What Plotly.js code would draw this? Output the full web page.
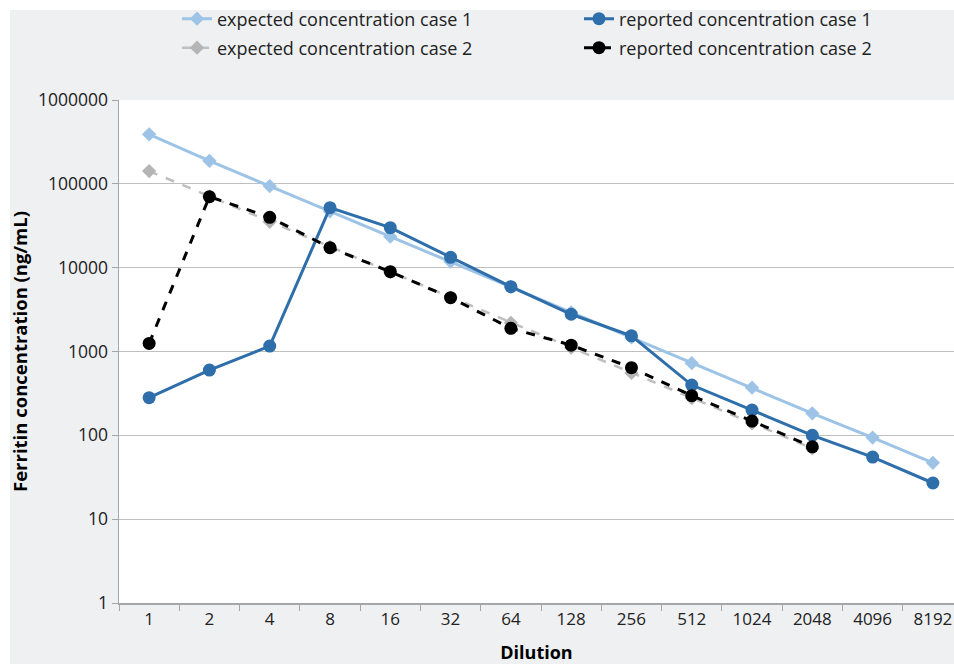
<!DOCTYPE html>
<html>
<head>
<meta charset="utf-8">
<script src="https://cdn.plot.ly/plotly-3.0.1.min.js"></script>
<style>
  html, body { margin: 0; padding: 0; background: #ffffff; }
  #bg { position: absolute; left: 10px; top: 10px; right: 0; bottom: 0; background: #eef0f2; }
  #chart { position: absolute; left: 0; top: 0; width: 954px; height: 664px; }
</style>
</head>
<body>
<div id="bg"></div>
<div id="chart"></div>
<script>
const dilutions = ['1','2','4','8','16','32','64','128','256','512','1024','2048','4096','8192'];
const expectedCase1 = [390000, 188000, 94000, 47000, 23400, 11800, 5900, 2930, 1470, 725, 370, 183, 94, 47];
const reportedCase1 = [281, 601, 1160, 52000, 30000, 13300, 5930, 2780, 1540, 398, 200, 100, 55, 27];
const expectedCase2 = [142000, 71000, 35300, 17700, 8850, 4430, 2200, 1110, 555, 278, 139, 70];
const reportedCase2 = [1250, 70300, 39900, 17300, 8950, 4380, 1890, 1190, 641, 297, 148, 73];
const yTickVals = [1, 10, 100, 1000, 10000, 100000, 1000000];
const yTickText = ['1', '10', '100', '1000', '10000', '100000', '1000000'];

const FONT = "'Open Sans', 'Liberation Sans', sans-serif";

const traces = [
  { name: 'expected concentration case 1', legend: 'legend', x: dilutions, y: expectedCase1, type: 'scatter', mode: 'lines+markers',
    line: { color: '#9dc3e6', width: 3 }, marker: { symbol: 'diamond', size: 11, color: '#9dc3e6' } },
  { name: 'reported concentration case 1', legend: 'legend', x: dilutions, y: reportedCase1, type: 'scatter', mode: 'lines+markers',
    line: { color: '#2e6eab', width: 3 }, marker: { symbol: 'circle', size: 13, color: '#2e6eab' } },
  { name: 'expected concentration case 2', legend: 'legend2', x: dilutions.slice(0, expectedCase2.length), y: expectedCase2, type: 'scatter', mode: 'lines+markers',
    line: { color: '#bfbfbf', width: 2.5, dash: 'dash' }, marker: { symbol: 'diamond', size: 11, color: '#b5b5b5' } },
  { name: 'reported concentration case 2', legend: 'legend2', x: dilutions.slice(0, reportedCase2.length), y: reportedCase2, type: 'scatter', mode: 'lines+markers',
    line: { color: '#000000', width: 3, dash: 'dash' }, marker: { symbol: 'circle', size: 13, color: '#000000' } }
];

function legendCfg(yPx) {
  return {
    orientation: 'h', xref: 'container', yref: 'container',
    x: 177 / 954, xanchor: 'left', y: 1 - yPx / 664, yanchor: 'middle',
    entrywidth: 357, entrywidthmode: 'pixels',
    font: { family: FONT, size: 18, color: '#222222' },
    bgcolor: 'rgba(0,0,0,0)', traceorder: 'normal'
  };
}

const layout = {
  width: 954, height: 664,
  margin: { l: 119, r: 0, t: 100, b: 61 },
  paper_bgcolor: 'rgba(0,0,0,0)',
  plot_bgcolor: '#ffffff',
  font: { family: FONT, size: 17, color: '#222222' },
  showlegend: true,
  legend: legendCfg(19),
  legend2: legendCfg(48),
  xaxis: {
    type: 'category', categoryorder: 'array', categoryarray: dilutions,
    range: [-0.5, 13.35],
    showline: true, linecolor: '#a6a6a6', linewidth: 1.5,
    showgrid: false, ticks: 'outside', tickson: 'boundaries', ticklen: 6, tickcolor: '#a6a6a6',
    tickfont: { family: FONT, size: 17, color: '#222222' },
    title: { text: '<b>Dilution</b>', font: { family: FONT, size: 18, color: '#000000' }, standoff: 18 },
    fixedrange: true
  },
  yaxis: {
    type: 'log', range: [0, 6],
    tickvals: yTickVals, ticktext: yTickText,
    showline: true, linecolor: '#a6a6a6', linewidth: 1.5,
    showgrid: true, gridcolor: '#bfbfbf', gridwidth: 1.2,
    ticks: 'outside', ticklen: 6, tickcolor: '#a6a6a6',
    tickfont: { family: FONT, size: 17.5, color: '#222222' },
    title: { text: '<b>Ferritin concentration (ng/mL)</b>', font: { family: FONT, size: 18.5, color: '#000000' }, standoff: 5 },
    zeroline: false, fixedrange: true
  }
};

Plotly.newPlot('chart', traces, layout, { displayModeBar: false, staticPlot: true });
</script>
</body>
</html>
